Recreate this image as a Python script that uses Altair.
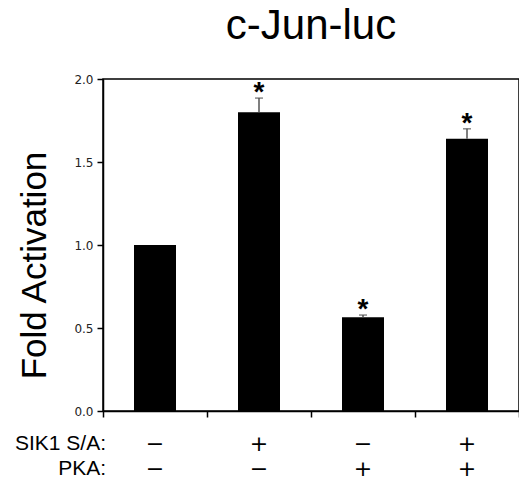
import altair as alt
import pandas as pd

# ---- data ----
conditions = ["A", "B", "C", "D"]
sik1_sa = ["−", "+", "−", "+"]
pka = ["−", "−", "+", "+"]
fold_activation = [1.0, 1.80, 0.565, 1.64]
error = [0.0, 0.085, 0.013, 0.06]
significant = [False, True, True, True]
row_names = ["SIK1 S/A:", "PKA:"]
y_ticks = [0.0, 0.5, 1.0, 1.5, 2.0]

df = pd.DataFrame({
    "cond": conditions,
    "sik1": sik1_sa,
    "pka": pka,
    "fold": fold_activation,
    "err": error,
    "sig": significant,
})
df["top"] = df["fold"] + df["err"]

FONT = "Liberation Sans"
SIGN_FONT = "DejaVu Sans"

x_main = alt.X(
    "cond:N",
    sort=conditions,
    scale=alt.Scale(paddingInner=0, paddingOuter=0),
    axis=alt.Axis(
        title=None,
        labels=False,
        tickBand="extent",
        tickSize=6,
    ),
)
x_plain = alt.X("cond:N", sort=conditions)
y_scale = alt.Scale(domain=[0, 2], nice=False)

bars = alt.Chart(df).mark_bar(color="black", size=42).encode(
    x=x_main,
    y=alt.Y(
        "fold:Q",
        scale=y_scale,
        axis=alt.Axis(
            title="Fold Activation",
            values=y_ticks,
            format=".1f",
            labelFont="DejaVu Sans",
            labelFontSize=12,
            labelColor="#222",
            labelPadding=4,
            tickSize=6,
            titleFont=FONT,
            titleFontSize=35,
            titleFontWeight="normal",
            titleColor="black",
            titleAngle=-90,
            titleAlign="center",
            titleBaseline="alphabetic",
            titleX=-58,
            titleY=186,
        ),
    ),
)

err_rule = alt.Chart(df).mark_rule(color="#555", strokeWidth=1.5).encode(
    x=x_plain, y="fold:Q", y2="top:Q",
)
err_cap = alt.Chart(df).transform_filter("datum.err > 0").mark_tick(
    color="#555", size=8, thickness=1.5
).encode(x=x_plain, y="top:Q")
stars = alt.Chart(df).transform_filter("datum.sig").mark_text(
    text="*", font=FONT, fontSize=28, fontWeight="bold", baseline="alphabetic", dy=3
).encode(x=x_plain, y="top:Q")

sign_row1 = alt.Chart(df).mark_text(
    font=SIGN_FONT, fontSize=22, baseline="alphabetic", color="black"
).encode(x=x_plain, y=alt.value(372), text="sik1:N")
sign_row2 = alt.Chart(df).mark_text(
    font=SIGN_FONT, fontSize=22, baseline="alphabetic", color="black"
).encode(x=x_plain, y=alt.value(397), text="pka:N")

row1 = alt.Chart(alt.Data(values=[{"t": row_names[0]}])).mark_text(
    align="right", baseline="alphabetic", font=FONT, fontSize=21, color="black"
).encode(text="t:N", x=alt.value(3), y=alt.value(371))
row2 = alt.Chart(alt.Data(values=[{"t": row_names[1]}])).mark_text(
    align="right", baseline="alphabetic", font=FONT, fontSize=21, color="black"
).encode(text="t:N", x=alt.value(3), y=alt.value(396))

chart = alt.layer(
    bars, err_rule, err_cap, stars, sign_row1, sign_row2, row1, row2
).properties(
    width=416,
    height=332,
    title=alt.TitleParams(
        "c-Jun-luc", font=FONT, fontSize=42, fontWeight="normal", color="black",
        anchor="middle", dy=-21,
    ),
    autosize=alt.AutoSizeParams(type="none"),
    padding={"left": 95, "top": 71, "right": 0, "bottom": 70},
).configure_view(
    stroke="black", strokeWidth=1.5
).configure_axis(
    domainColor="black", domainWidth=1.5, tickColor="black", tickWidth=1.5, grid=False
)

chart.save("out.html", embed_options={"renderer": "svg", "actions": False})
